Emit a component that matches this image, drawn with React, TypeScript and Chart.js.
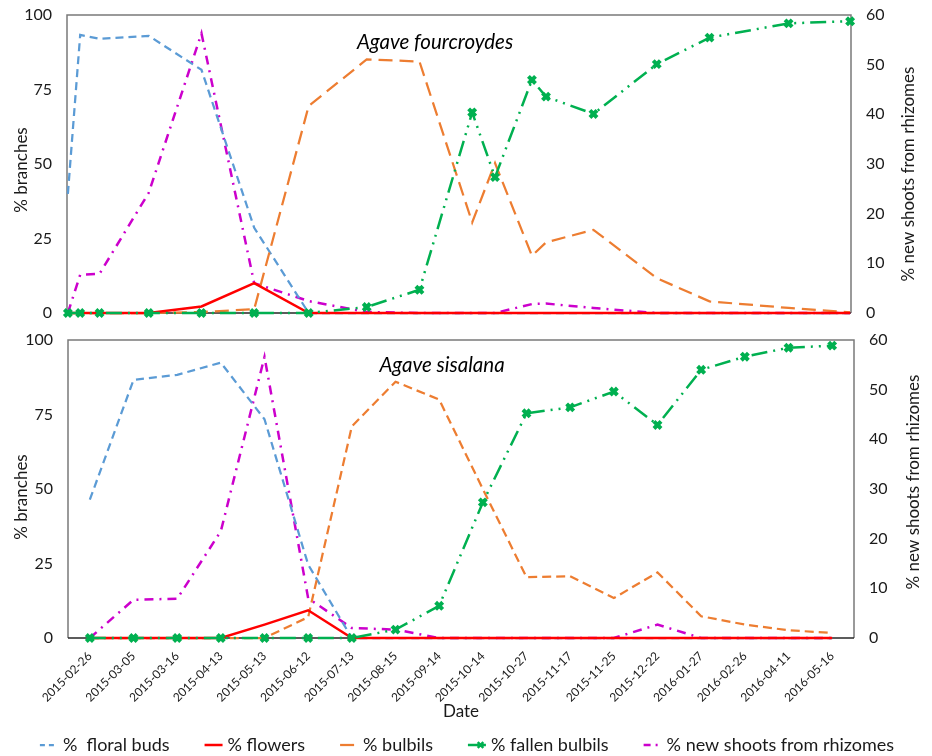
import React, { useEffect, useRef } from 'react';
import { Chart, registerables } from 'chart.js';

Chart.register(...registerables);

const FONT = 'Lato, "Open Sans", sans-serif';
const TEXT = '#1a1a1a';

// ---------- data ----------
const dateLabels = [
  '2015-02-26', '2015-03-05', '2015-03-16', '2015-04-13', '2015-05-13', '2015-06-12',
  '2015-07-13', '2015-08-15', '2015-09-14', '2015-10-14', '2015-10-27', '2015-11-17',
  '2015-11-25', '2015-12-22', '2016-01-27', '2016-02-26', '2016-04-11', '2016-05-16',
];
// days since 2015-02-26 (top panel uses a true date axis)
const dayOffsets = [0, 7, 18, 46, 76, 106, 137, 170, 200, 230, 243, 264, 272, 299, 335, 365, 410, 445];

const seriesLabels = ['%  floral buds', '% flowers', '% bulbils', '% fallen bulbils', '% new shoots from rhizomes'];

// Agave fourcroydes (left axis: % branches; new shoots on right axis)
const fourFloralBuds = [40, 93.3, 92, 93, 81.6, 28.6, 0, 0, 0, 0, 0, 0, 0, 0, 0, 0, 0, 0];
const fourFlowers = [0, 0, 0, 0, 2.2, 10, 0, 0, 0, 0, 0, 0, 0, 0, 0, 0, 0, 0];
const fourBulbils = [0, 0, 0, 0, 0.3, 1.3, 69.5, 85.1, 84.4, 30.4, 50.3, 19.2, 23.7, 27.9, 11.7, 3.9, 1.7, 0.2];
const fourFallen = [0, 0, 0, 0, 0, 0, 0, 2, 7.8, 67.3, 45.6, 78.2, 72.6, 66.8, 83.5, 92.4, 97.2, 97.9];
const fourShoots = [0, 7.7, 7.9, 24.2, 56.3, 6, 2.4, 0.2, 0, 0, 0, 1.8, 1.9, 1.0, 0, 0, 0, 0];

// Agave sisalana
const sisFloralBuds = [46.4, 86.6, 88.3, 92.4, 73.4, 24.6, 0, 0, 0, 0, 0, 0, 0, 0, 0, 0, 0, 0];
const sisFlowers = [0, 0, 0, 0, 4.5, 9.3, 0, 0, 0, 0, 0, 0, 0, 0, 0, 0, 0, 0];
const sisBulbils = [0, 0, 0, 0, 0, 7, 71, 86, 80, 50, 20.4, 20.7, 13.4, 22, 7.3, 4.5, 2.6, 1.7];
const sisFallen = [0, 0, 0, 0, 0, 0, 0, 2.8, 10.8, 45.5, 75.4, 77.4, 82.7, 71.5, 90, 94.4, 97.4, 98.1];
const sisShoots = [0, 7.7, 7.9, 21.5, 56.6, 8, 2, 1.7, 0, 0, 0, 0, 0, 2.7, 0, 0, 0, 0];

// ---------- styles ----------
const seriesColors = ['#5B9BD5', '#FF0000', '#ED7D31', '#00B050', '#CC00CC'];
const seriesWidths = [2.25, 2.5, 2.25, 2.5, 2.5];
const topDashes = [[8, 5], [], [14, 7], [16, 6, 2, 6, 2, 6], [9, 6, 2, 6]];
const bottomDashes = [[8, 5], [], [9, 5], [16, 6, 2, 6, 2, 6], [9, 6, 2, 6]];
const legendDashes = [[5, 4], [], [14, 40], [], [7, 5, 2, 20]];
const seriesOrder = [4, 2, 3, 1, 5];

function buildDatasets(values: number[][], xs: number[] | null, dashes: number[][]) {
  return values.map((vals, i) => ({
    label: seriesLabels[i],
    data: xs ? vals.map((v, j) => ({ x: xs[j], y: v })) : vals,
    borderColor: seriesColors[i],
    backgroundColor: seriesColors[i],
    borderWidth: seriesWidths[i],
    borderDash: dashes[i],
    legendDash: legendDashes[i],
    yAxisID: i === 4 ? 'y1' : 'y',
    pointStyle: i === 3 ? 'crossRot' : 'circle',
    pointRadius: i === 3 ? 5 : 0,
    pointHoverRadius: 0,
    pointBorderWidth: i === 3 ? 4 : 0,
    pointBorderColor: seriesColors[i],
    pointBackgroundColor: seriesColors[i],
    tension: 0,
    clip: false as any,
    order: seriesOrder[i],
  }));
}

const decorPlugin = {
  id: 'decor',
  beforeDatasetsDraw(chart: any) {
    const { ctx, chartArea: a } = chart;
    ctx.save();
    ctx.lineWidth = 1.5;
    ctx.strokeStyle = '#7a7a7a';
    ctx.beginPath();
    ctx.moveTo(a.left, a.bottom);
    ctx.lineTo(a.left, a.top);
    ctx.lineTo(a.right, a.top);
    ctx.lineTo(a.right, a.bottom);
    ctx.stroke();
    ctx.strokeStyle = '#262626';
    ctx.beginPath();
    ctx.moveTo(a.left, a.bottom);
    ctx.lineTo(a.right, a.bottom);
    ctx.stroke();
    ctx.restore();
  },
  afterDraw(chart: any, _args: any, opts: any) {
    const { ctx } = chart;
    ctx.save();
    ctx.fillStyle = '#000';
    ctx.textAlign = 'center';
    ctx.textBaseline = 'middle';
    ctx.font = `italic 20.5px ${FONT}`;
    ctx.fillText(opts.title, opts.titleX, opts.titleY);
    ctx.fillStyle = TEXT;
    ctx.font = `17px ${FONT}`;
    ctx.save();
    ctx.translate(opts.leftX, opts.leftY);
    ctx.rotate(-Math.PI / 2);
    ctx.fillText(opts.leftTitle, 0, 0);
    ctx.restore();
    ctx.save();
    ctx.translate(opts.rightX, opts.rightY);
    ctx.rotate(-Math.PI / 2);
    ctx.fillText(opts.rightTitle, 0, 0);
    ctx.restore();
    if (opts.xTitle) {
      ctx.font = `17px ${FONT}`;
      ctx.fillText(opts.xTitle, opts.xTitleX, opts.xTitleY);
    }
    ctx.restore();
  },
};

const legendPlugin = {
  id: 'customLegend',
  afterDraw(chart: any, _args: any, opts: any) {
    if (!opts || !opts.show) return;
    const { ctx } = chart;
    ctx.save();
    ctx.font = `18px ${FONT}`;
    const sample = 18;
    const gapText = 5;
    const gapItem = 35;
    const items = chart.data.datasets.map((ds: any) => ({ ds, w: ctx.measureText(ds.label).width }));
    const total = items.reduce((s: number, it: any) => s + sample + gapText + it.w, 0) + gapItem * (items.length - 1);
    let x = opts.centerX - total / 2;
    const y = opts.y;
    items.forEach(({ ds, w }: any) => {
      ctx.save();
      ctx.strokeStyle = ds.borderColor;
      ctx.lineWidth = ds.borderWidth;
      ctx.setLineDash(ds.legendDash || []);
      ctx.beginPath();
      ctx.moveTo(x, y);
      ctx.lineTo(x + sample, y);
      ctx.stroke();
      if (ds.pointStyle === 'crossRot') {
        ctx.setLineDash([]);
        ctx.lineWidth = 2.5;
        const cx = x + sample * 0.7;
        const r = 2.8;
        ctx.beginPath();
        ctx.moveTo(cx - r, y - r);
        ctx.lineTo(cx + r, y + r);
        ctx.moveTo(cx + r, y - r);
        ctx.lineTo(cx - r, y + r);
        ctx.stroke();
      }
      ctx.restore();
      ctx.fillStyle = TEXT;
      ctx.textBaseline = 'middle';
      ctx.textAlign = 'left';
      ctx.fillText(ds.label, x + sample + gapText, y);
      x += sample + gapText + w + gapItem;
    });
    ctx.restore();
  },
};

function yScales(leftWidth: number, rightWidth: number) {
  return {
    y: {
      position: 'left' as const,
      min: 0,
      max: 100,
      ticks: { stepSize: 25, font: { family: FONT, size: 16 }, color: TEXT, padding: 15 },
      grid: { display: false, drawTicks: false },
      border: { display: false },
      afterFit: (s: any) => { s.width = leftWidth; s.paddingTop = 0; s.paddingBottom = 0; },
    },
    y1: {
      position: 'right' as const,
      min: 0,
      max: 60,
      ticks: { stepSize: 10, font: { family: FONT, size: 16 }, color: TEXT, padding: 15 },
      grid: { display: false, drawTicks: false },
      border: { display: false },
      afterFit: (s: any) => { s.width = rightWidth; s.paddingTop = 0; s.paddingBottom = 0; },
    },
  };
}

export default function App() {
  const topRef = useRef<HTMLCanvasElement>(null);
  const bottomRef = useRef<HTMLCanvasElement>(null);

  useEffect(() => {
    const top = new Chart(topRef.current!, {
      type: 'line',
      data: {
        datasets: buildDatasets(
          [fourFloralBuds, fourFlowers, fourBulbils, fourFallen, fourShoots],
          dayOffsets,
          topDashes,
        ) as any,
      },
      options: {
        responsive: false,
        animation: false,
        layout: { autoPadding: false, padding: { top: 15, bottom: 13, left: 0, right: 0 } },
        scales: {
          x: { type: 'linear', display: false, min: -0.5, max: 445.5 },
          ...yScales(67, 81),
        } as any,
        plugins: {
          legend: { display: false },
          tooltip: { enabled: false },
          decor: {
            title: 'Agave fourcroydes',
            titleX: 435,
            titleY: 42,
            leftTitle: '% branches',
            leftX: 22,
            leftY: 170,
            rightTitle: '% new shoots from rhizomes',
            rightX: 909,
            rightY: 174,
          },
        } as any,
      },
      plugins: [decorPlugin],
    });

    const bottom = new Chart(bottomRef.current!, {
      type: 'line',
      data: {
        labels: dateLabels,
        datasets: buildDatasets(
          [sisFloralBuds, sisFlowers, sisBulbils, sisFallen, sisShoots],
          null,
          bottomDashes,
        ) as any,
      },
      options: {
        responsive: false,
        animation: false,
        layout: { autoPadding: false, padding: { top: 14, bottom: 0, left: 0, right: 0 } },
        scales: {
          x: {
            type: 'category',
            offset: true,
            grid: { display: false, drawTicks: false },
            border: { display: false },
            ticks: {
              autoSkip: false,
              maxRotation: 45,
              minRotation: 45,
              padding: 11,
              font: { family: FONT, size: 12 },
              color: TEXT,
            },
            afterFit: (s: any) => { s.height = 118; s.paddingLeft = 0; s.paddingRight = 0; },
          },
          ...yScales(68, 78),
        } as any,
        plugins: {
          legend: { display: false },
          tooltip: { enabled: false },
          decor: {
            title: 'Agave sisalana',
            titleX: 442,
            titleY: 39,
            leftTitle: '% branches',
            leftX: 22,
            leftY: 171,
            rightTitle: '% new shoots from rhizomes',
            rightX: 914,
            rightY: 156,
            xTitle: 'Date',
            xTitleX: 461,
            xTitleY: 386,
          },
          customLegend: { show: true, centerX: 467, y: 419 },
        } as any,
      },
      plugins: [decorPlugin, legendPlugin],
    });

    return () => {
      top.destroy();
      bottom.destroy();
    };
  }, []);

  return (
    <div style={{ position: 'absolute', left: 0, top: 0, width: 932, height: 756, background: '#fff' }}>
      <canvas
        ref={topRef}
        width={932}
        height={326}
        style={{ position: 'absolute', left: 0, top: 0, width: 932, height: 326 }}
      />
      <canvas
        ref={bottomRef}
        width={932}
        height={430}
        style={{ position: 'absolute', left: 0, top: 326, width: 932, height: 430 }}
      />
    </div>
  );
}
